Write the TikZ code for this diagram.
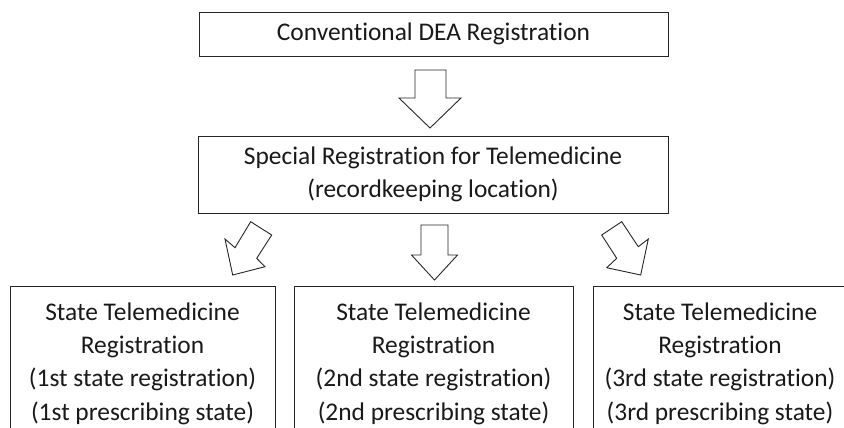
\documentclass[tikz,border=0pt]{standalone}
\usepackage{fontspec}
\setmainfont[Ligatures=NoCommon]{Carlito}
\begin{document}
\begin{tikzpicture}[x=1bp,y=-1bp,
  box/.style={draw=black!85, line width=0.9bp, inner sep=0pt, align=center,
    font=\fontsize{25.5}{33.5}\selectfont, text=black!90},
  blk/.style={draw=black!85, line width=0.9bp, line join=miter}]
\useasboundingbox (0,0) rectangle (844,427);
\clip (0,0) rectangle (844,427);

\node[box, minimum width=469bp, minimum height=44bp] (conv) at (433.5,34)
  {Conventional DEA Registration};
\node[box, minimum width=470bp, minimum height=77bp] (spec) at (433,174.5)
  {Special Registration for Telemedicine\\(recordkeeping location)};
\node[box, minimum width=265bp, minimum height=155bp] (s1) at (142.5,363.5)
  {State Telemedicine\\Registration\\(1st state registration)\\(1st prescribing state)};
\node[box, minimum width=279bp, minimum height=155bp] (s2) at (433.5,363.5)
  {State Telemedicine\\Registration\\(2nd state registration)\\(2nd prescribing state)};
\node[box, minimum width=254bp, minimum height=155bp] (s3) at (720,363.5)
  {State Telemedicine\\Registration\\(3rd state registration)\\(3rd prescribing state)};

% block arrows
\draw[blk] (415,70) -- (446,70) -- (446,98) -- (461,98) -- (430,128) -- (399,98) -- (415,98) -- cycle;
\draw[blk] (421,225) -- (448,225) -- (448,255) -- (457.5,255) -- (434.5,280) -- (411.5,255) -- (421,255) -- cycle;
\draw[blk] (250.7,221.7) -- (271.7,235) -- (256.7,258.3) -- (265,266.7) -- (232.7,275) -- (225,239) -- (235,247.7) -- cycle;
\draw[blk] (601.7,235) -- (621.7,221.7) -- (638.3,246.7) -- (648.3,239) -- (640.7,275) -- (606.7,267.7) -- (616.7,258.3) -- cycle;
\end{tikzpicture}
\end{document}
